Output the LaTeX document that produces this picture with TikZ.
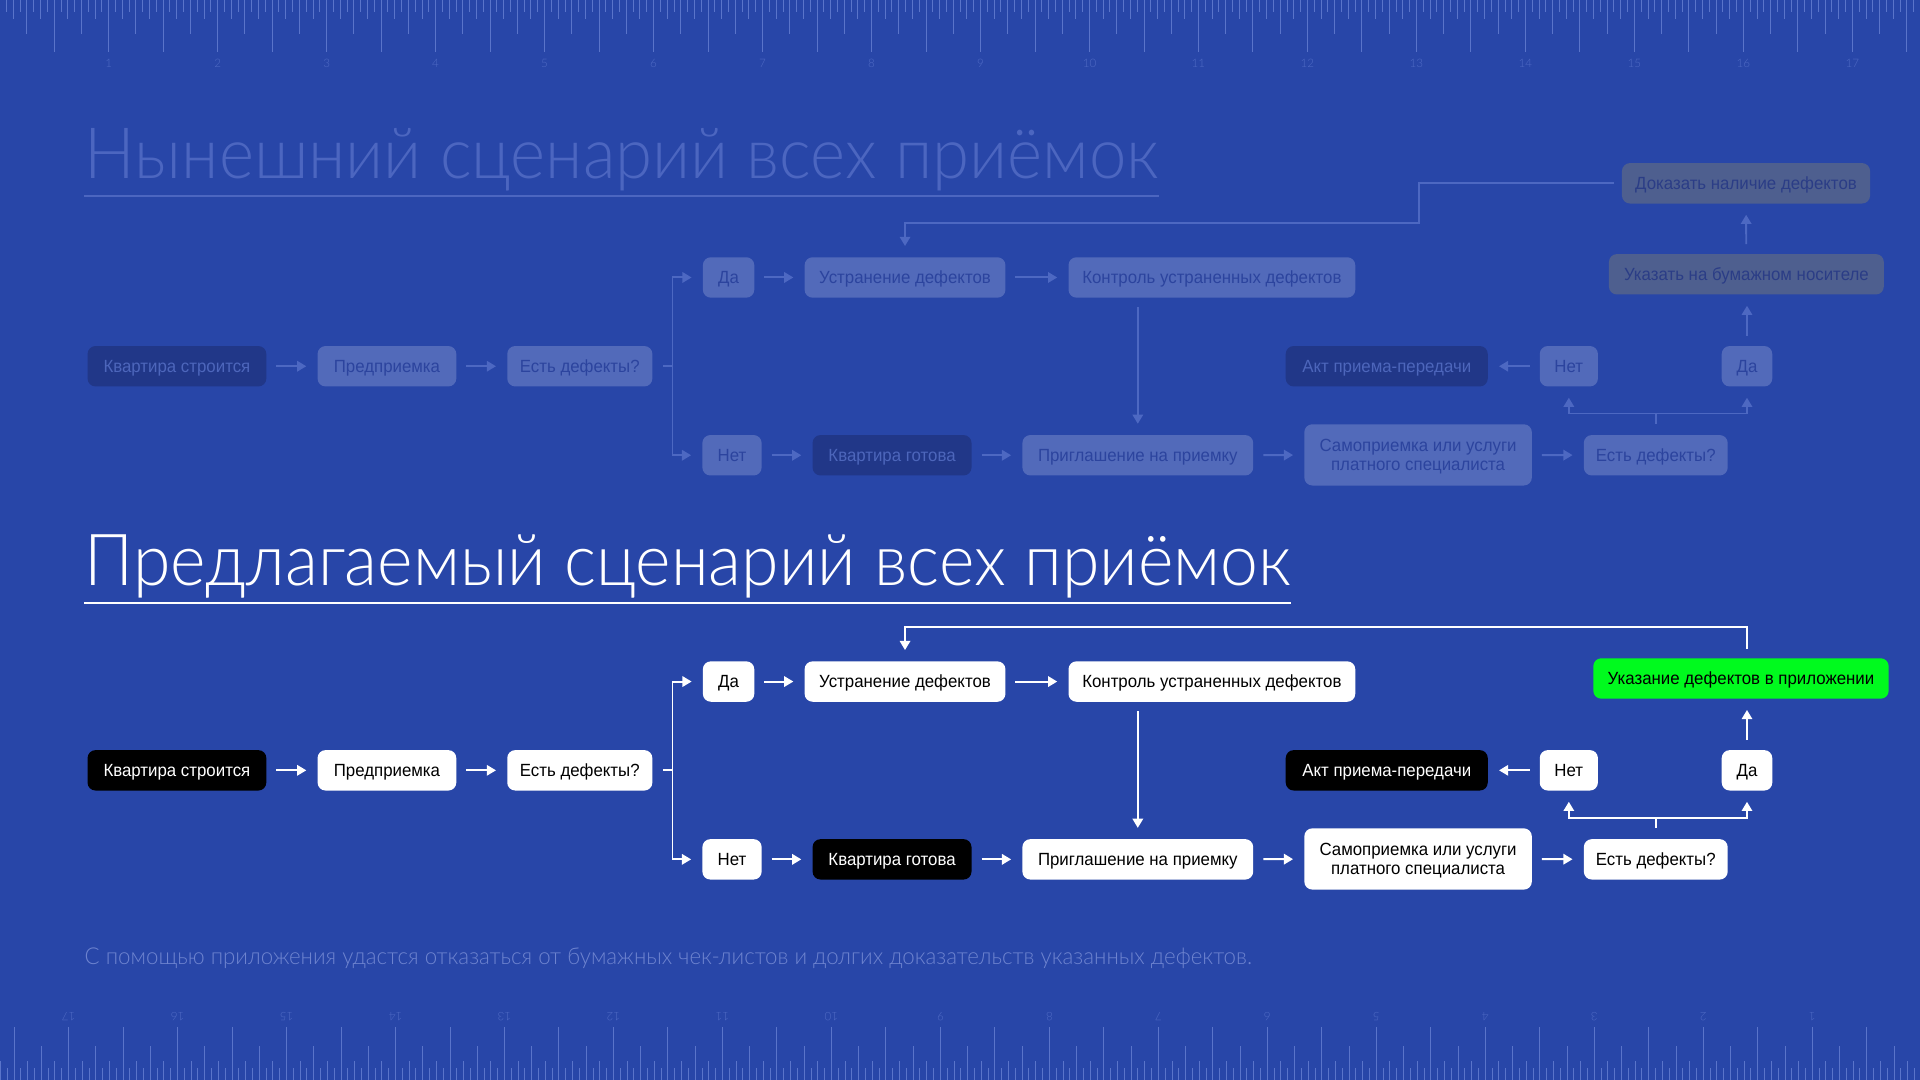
\documentclass[tikz,border=0pt]{standalone}
\usepackage{fontspec}
\setmainfont{Liberation Sans}
\newfontfamily\nodefam{Liberation Sans}[FakeStretch=0.955]
\newfontfamily\lightfont{Lato Light}
\usepackage{graphicx}
\usetikzlibrary{arrows.meta}

\definecolor{bgc}{HTML}{2846A8}
\definecolor{grn}{HTML}{00FA1E}
\definecolor{fLight}{HTML}{526ABA}
\definecolor{fLightTxt}{HTML}{2C449E}
\definecolor{fDark}{HTML}{213788}
\definecolor{fDarkTxt}{HTML}{4D66BB}
\definecolor{fGray}{HTML}{4E5F8F}
\definecolor{fGrayTxt}{HTML}{2B3D86}
\definecolor{fLine}{HTML}{4D68C2}
\definecolor{titleF}{HTML}{4C66C0}
\definecolor{footC}{HTML}{6D83CF}
\definecolor{rulC}{HTML}{5A74CA}
\definecolor{rulN}{HTML}{4F6AC4}

\newcommand\nodefont{\nodefam\fontsize{14.4}{15.8}\selectfont}

\tikzset{
  box/.style={rounded corners=6.5pt, minimum height=33pt, inner sep=0pt,
    font=\nodefont, text height=10.3pt, text depth=0pt},
  arr/.style={-{Triangle[length=7.5pt,width=8.5pt]}, line width=1.6pt,
    shorten >=9pt, shorten <=8pt},
  rul/.style={rulC, line width=0.8pt},
  rulnum/.style={text=rulN, font=\lightfont\fontsize{9.5}{10}\selectfont, inner sep=0pt},
}

\newcommand\flowcommon[1]{%
  \node[nD, minimum width=146pt]   (#1kv)  at (144.5,299.1) {Квартира строится};
  \node[nL, minimum width=113.3pt] (#1pp)  at (316,299.1)   {Предприемка};
  \node[nL, minimum width=118.5pt] (#1ed)  at (473.5,299.1) {Есть дефекты?};
  \node[nL, minimum width=42pt]    (#1da)  at (595,226.6)   {Да};
  \node[nL, minimum width=164pt]   (#1us)  at (739.1,226.6) {Устранение дефектов};
  \node[nL, minimum width=234.2pt] (#1ko)  at (989.7,226.6) {Контроль устраненных дефектов};
  \node[nL, minimum width=48.4pt]  (#1net) at (597.8,371.8) {Нет};
  \node[nD, minimum width=129.8pt] (#1kg)  at (728.5,371.8) {Квартира готова};
  \node[nL, minimum width=188.5pt] (#1pr)  at (929.2,371.8) {Приглашение на приемку};
  \node[nL, minimum width=185.8pt, minimum height=50pt, align=center,
        text height=26.1pt, text depth=0pt] (#1sa) at (1158.1,371.5)
        {Самоприемка или услуги\\платного специалиста};
  \node[nL, minimum width=117.5pt] (#1edd) at (1352.2,371.8) {Есть дефекты?};
  \node[nL, minimum width=47.5pt]  (#1nt)  at (1281.2,299.1) {Нет};
  \node[nL, minimum width=41.3pt]  (#1dd)  at (1426.7,299.1) {Да};
  \node[nD, minimum width=165pt]   (#1akt) at (1132.5,299.1) {Акт приема-передачи};
  \coordinate (#1br)  at (549.2,299.1);
  \coordinate (#1brr) at (1352.2,337.7);
  \draw[conn] (#1kv) -- (#1pp);
  \draw[conn] (#1pp) -- (#1ed);
  \draw[connline, shorten <=8.4pt] (#1ed.east) -- (#1br);
  \draw[conn, shorten <=0pt] (#1br) |- (#1da);
  \draw[conn, shorten <=0pt] (#1br) |- (#1net);
  \draw[conn] (#1da) -- (#1us);
  \draw[conn] (#1us) -- (#1ko);
  \draw[conn] (#1net) -- (#1kg);
  \draw[conn] (#1kg) -- (#1pr);
  \draw[conn] (#1pr) -- (#1sa);
  \draw[conn] (#1sa) -- (#1edd);
  \draw[conn, shorten <=7.4pt] (#1pr |- #1ko.south) -- (#1pr);
  \draw[connline, shorten <=9pt] (#1edd.north) -- (#1brr);
  \draw[conn, shorten <=0pt] (#1brr) -| (#1nt);
  \draw[conn, shorten <=0pt] (#1brr) -| (#1dd);
  \draw[conn] (#1nt) -- (#1akt);
}

\begin{document}
\begin{tikzpicture}[x=1pt,y=-1pt]
\useasboundingbox (0,0) rectangle (1568,882);
\fill[bgc] (0,0) rectangle (1568,882);

% top ruler
\foreach \k in {0,...,282} \draw[rul] ({-0.25+\k*5.5625},0) -- ++(0,9.8);
\foreach \k in {0,2,...,282} \draw[rul] ({-0.25+\k*5.5625},0) -- ++(0,15.5);
\foreach \k in {0,4,...,280} \draw[rul] ({-0.25+\k*5.5625},0) -- ++(0,28);
\foreach \k in {0,8,...,280} \draw[rul] ({-0.25+\k*5.5625},0) -- ++(0,42.5);
\foreach \n in {1,...,17} \node[rulnum] (tn\n) at ({88.75+(\n-1)*89},51.5) {\n};

% bottom ruler
\foreach \j in {0,...,283} \draw[rul] ({1569-\j*5.5625},882) -- ++(0,-9.8);
\foreach \j in {0,2,...,282} \draw[rul] ({1569-\j*5.5625},882) -- ++(0,-15.5);
\foreach \j in {0,4,...,280} \draw[rul] ({1569-\j*5.5625},882) -- ++(0,-28);
\foreach \j in {0,8,...,280} \draw[rul] ({1569-\j*5.5625},882) -- ++(0,-43);
\foreach \n in {1,...,17} \node[rulnum, rotate=180] (bn\n) at ({1480-(\n-1)*89},830) {\n};

% titles
\node[anchor=base west, inner sep=0pt, text=titleF] (title1) at (69,145.6)
  {\resizebox{877pt}{\height}{\lightfont\fontsize{57.8}{60}\selectfont Нынешний сценарий всех приёмок}};
\draw[titleF, line width=1.5pt] ([yshift=-14.4pt]title1.base west) -- ([yshift=-14.4pt]title1.base east);

\node[anchor=base west, inner sep=0pt, text=white] (title2) at (69,478)
  {\resizebox{985pt}{\height}{\lightfont\fontsize{58.6}{60}\selectfont Предлагаемый сценарий всех приёмок}};
\draw[white, line width=1.5pt] ([yshift=-14.7pt]title2.base west) -- ([yshift=-14.7pt]title2.base east);

% current scenario (faded)
\begin{scope}[
  nL/.style={box, fill=fLight, text=fLightTxt},
  nD/.style={box, fill=fDark, text=fDarkTxt},
  nG/.style={box, fill=fGray, text=fGrayTxt},
  conn/.style={arr, draw=fLine},
  connline/.style={line width=1.6pt, draw=fLine}]
  \flowcommon{t}
  \node[nG, minimum width=224.5pt] (tuk) at (1426.2,224) {Указать на бумажном носителе};
  \node[nG, minimum width=202.6pt] (tdk) at (1425.9,149.7) {Доказать наличие дефектов};
  \draw[conn] (tdd) -- (tdd |- tuk.south);
  \draw[conn] (tuk) -- (tdk);
  \coordinate (tf1) at (1158.8,149.7);
  \coordinate (tf2) at (1158.8,181.8);
  \draw[conn, shorten <=6.6pt] (tdk) -- (tf1) -- (tf2) -| (tus);
\end{scope}

% proposed scenario
\begin{scope}[yshift=-330pt,
  nL/.style={box, fill=white, text=black},
  nD/.style={box, fill=black, text=white},
  nS/.style={box, fill=grn, text=black},
  conn/.style={arr, draw=white},
  connline/.style={line width=1.6pt, draw=white}]
  \flowcommon{b}
  \node[nS, minimum width=241.2pt] (byk) at (1421.8,224.1) {Указание дефектов в приложении};
  \draw[conn] (bdd) -- (bdd |- byk.south);
  \coordinate (bf1) at (1426.7,182.3);
  \draw[conn, shorten <=7.3pt] (bdd |- byk.north) -- (bf1) -| (bus);
\end{scope}

% footer
\node[anchor=base west, inner sep=0pt, text=footC] (foot) at (69,788)
  {\resizebox{953pt}{\height}{\lightfont\fontsize{19}{20}\selectfont С помощью приложения удастся отказаться от бумажных чек-листов и долгих доказательств указанных дефектов.}};
\end{tikzpicture}
\end{document}
